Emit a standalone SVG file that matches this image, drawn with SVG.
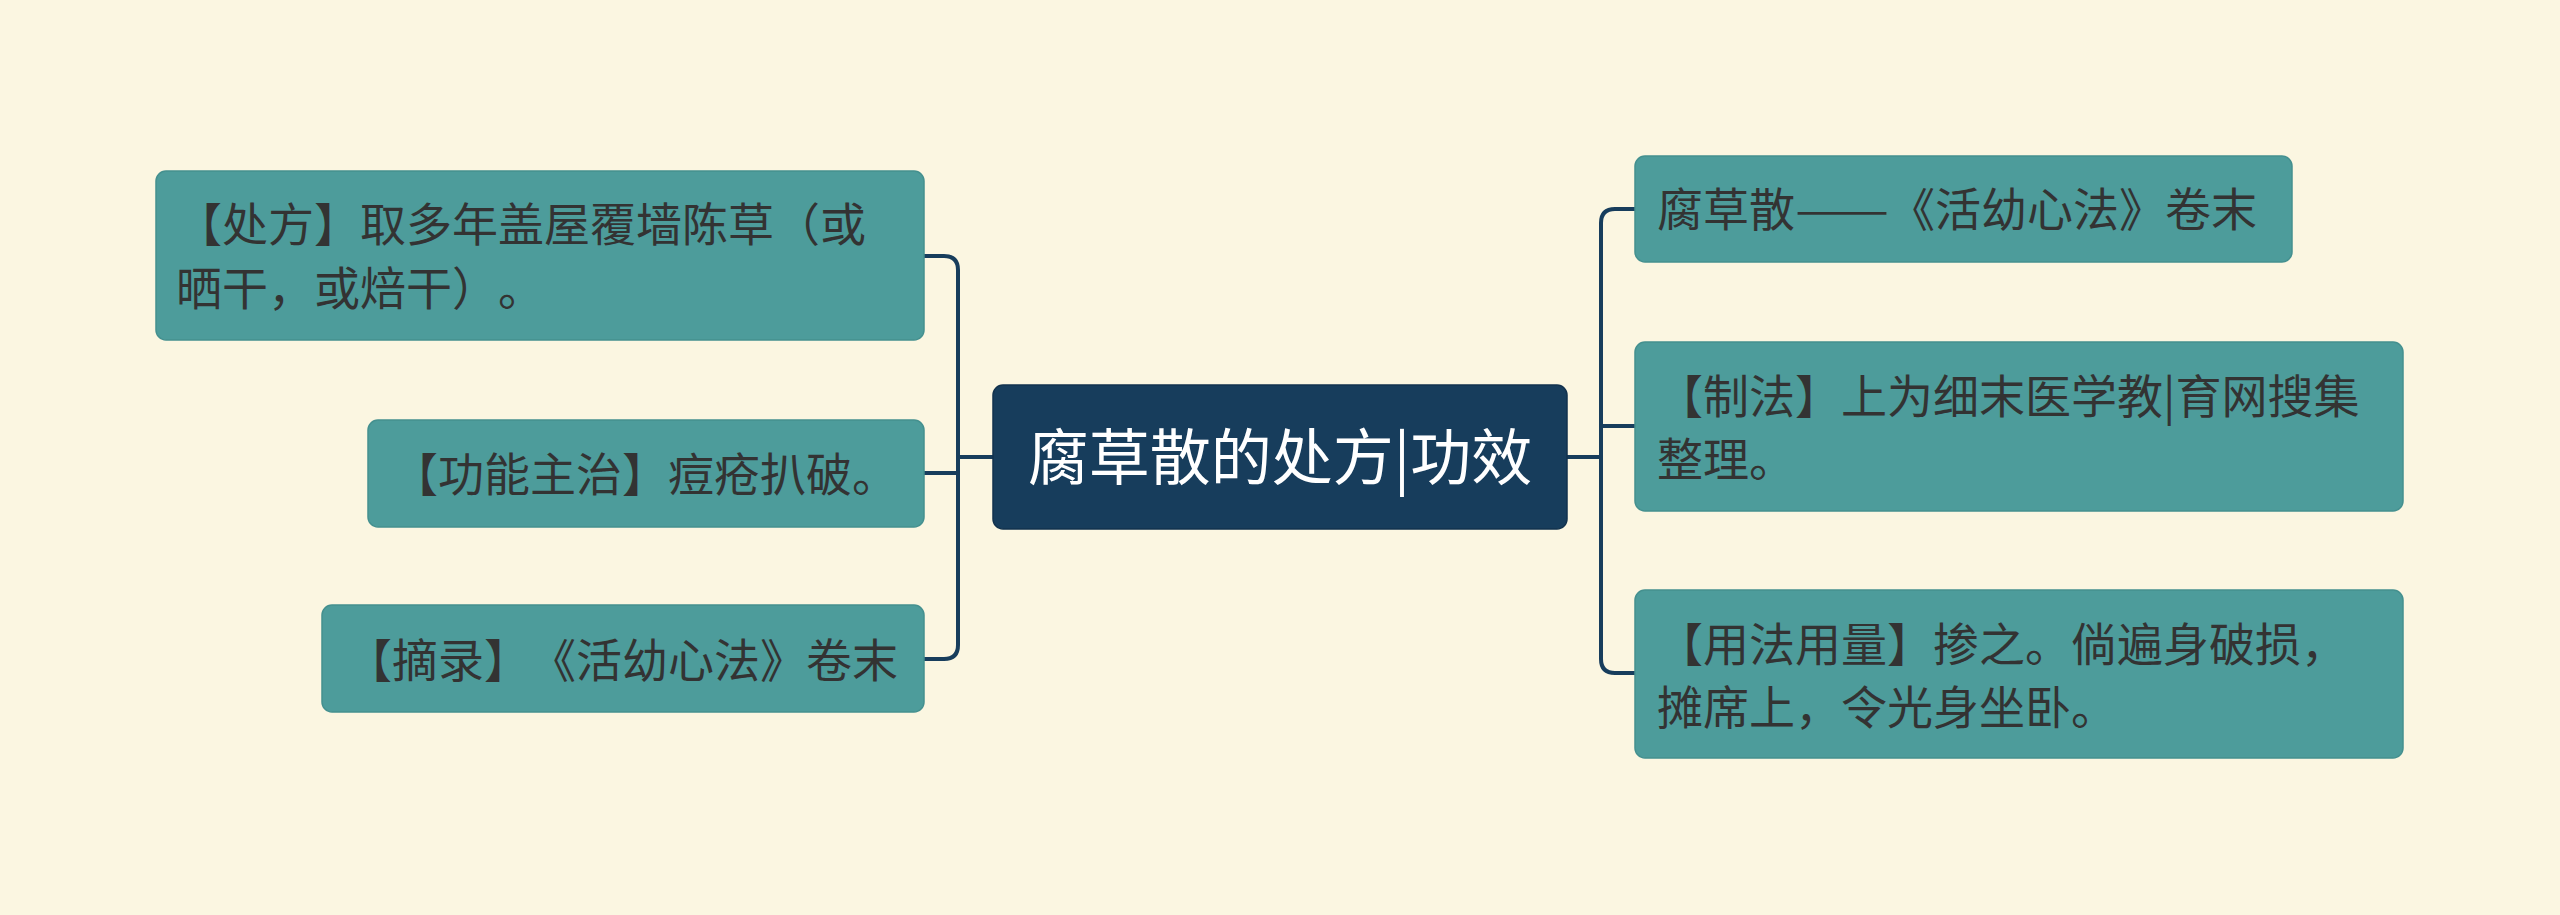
<svg xmlns="http://www.w3.org/2000/svg" width="2560" height="915" viewBox="0 0 2560 915">
<style>
.bg{fill:#fbf6e1}
.leaf{fill:#4d9c9b;stroke:#44908f;stroke-width:1.5}
.root{fill:#173d5c;stroke:#12324d;stroke-width:1.5}
text{text-spacing-trim:space-all}
.lt{font-family:"Noto Sans CJK SC","Noto Sans",sans-serif;font-size:46px;fill:#333333}
.rt{font-family:"Noto Sans CJK SC","Noto Sans",sans-serif;font-size:61px;fill:#ffffff;text-anchor:middle}
.edge{fill:none;stroke:#173d5c;stroke-width:4;stroke-linecap:round;stroke-linejoin:round}
</style>
<rect class="bg" x="0" y="0" width="2560" height="915"/>
<g id="connectors">
<path class="edge" d="M993 457 H958"/>
<path class="edge" d="M924 256 H944 Q958 256 958 270 V645 Q958 659 944 659 H924"/>
<path class="edge" d="M924 473 H958"/>
<path class="edge" d="M1567 457 H1601"/>
<path class="edge" d="M1635 209 H1615 Q1601 209 1601 223 V659 Q1601 673 1615 673 H1635"/>
<path class="edge" d="M1601 426 H1635"/>
</g>
<g id="root">
<rect class="root" x="993" y="385" width="574" height="144" rx="10"/>
<text class="rt" x="1280" y="480">腐草散的处方|功效</text>
</g>
<g id="left1">
<rect class="leaf" x="156" y="171" width="768" height="169" rx="10"/>
<text class="lt" x="176" y="241">【处方】取多年盖屋覆墙陈草（或</text>
<text class="lt" x="176" y="305">晒干，或焙干）。</text>
</g>
<g id="left2">
<rect class="leaf" x="368" y="420" width="556" height="107" rx="10"/>
<text class="lt" x="392" y="491">【功能主治】痘疮扒破。</text>
</g>
<g id="left3">
<rect class="leaf" x="322" y="605" width="602" height="107" rx="10"/>
<text class="lt" x="346" y="677">【摘录】《活幼心法》卷末</text>
</g>
<g id="right1">
<rect class="leaf" x="1635" y="156" width="657" height="106" rx="10"/>
<text class="lt" x="1657" y="226">腐草散<tspan textLength="94" lengthAdjust="spacingAndGlyphs">——</tspan>《活幼心法》卷末</text>
</g>
<g id="right2">
<rect class="leaf" x="1635" y="342" width="768" height="169" rx="10"/>
<text class="lt" x="1657" y="413">【制法】上为细末医学教|育网搜集</text>
<text class="lt" x="1657" y="476">整理。</text>
</g>
<g id="right3">
<rect class="leaf" x="1635" y="590" width="768" height="168" rx="10"/>
<text class="lt" x="1657" y="661">【用法用量】掺之。倘遍身破损，</text>
<text class="lt" x="1657" y="724">摊席上，令光身坐卧。</text>
</g>
</svg>
